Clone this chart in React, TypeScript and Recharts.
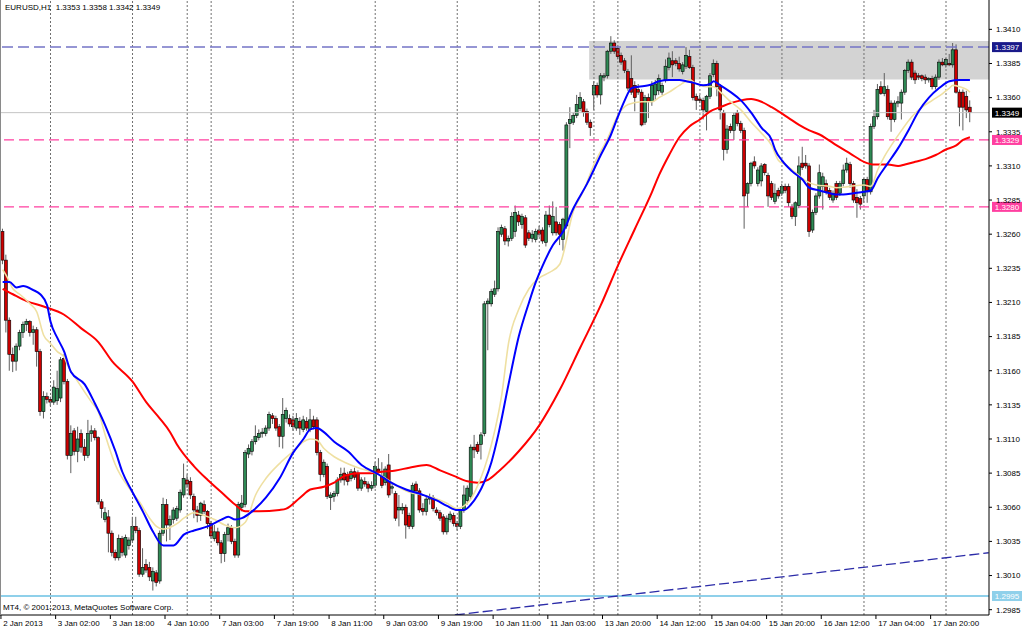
import React from "react";
import { ComposedChart, Bar, Line, XAxis, YAxis, ReferenceLine, ReferenceArea } from "recharts";

const FONT = '"Liberation Sans", Arial, sans-serif';

// ---- OHLC (EURUSD H1) ----
const opens = [
1.3262,1.3241,1.3197,1.3172,1.3167,1.3178,1.3188,1.3194,1.3196,1.3188,
1.3190,1.3174,1.3130,1.3141,1.3139,1.3137,1.3138,1.3140,1.3169,1.3152,
1.3098,1.3116,1.3101,1.3114,1.3104,1.3098,1.3114,1.3116,1.3111,1.3064,
1.3051,1.3053,1.3041,1.3027,1.3023,1.3037,1.3025,1.3032,1.3036,1.3046,
1.3043,1.3011,1.3018,1.3016,1.3006,1.3012,1.3006,1.3041,1.3062,1.3047,
1.3051,1.3052,1.3058,1.3069,1.3080,1.3079,1.3068,1.3058,1.3054,1.3062,
1.3057,1.3048,1.3037,1.3042,1.3034,1.3026,1.3040,1.3045,1.3035,1.3025,
1.3060,1.3062,1.3099,1.3101,1.3108,1.3111,1.3114,1.3114,1.3118,1.3127,
1.3125,1.3119,1.3112,1.3125,1.3125,1.3124,1.3118,1.3123,1.3117,1.3123,
1.3117,1.3124,1.3124,1.3100,1.3084,1.3090,1.3067,1.3068,1.3070,1.3080,
1.3085,1.3084,1.3081,1.3086,1.3085,1.3074,1.3079,1.3077,1.3074,1.3076,
1.3088,1.3083,1.3078,1.3091,1.3074,1.3070,1.3058,1.3058,1.3060,1.3054,
1.3046,1.3077,1.3072,1.3059,1.3057,1.3066,1.3067,1.3058,1.3056,1.3053,
1.3042,1.3051,1.3054,1.3048,1.3046,1.3058,1.3065,1.3068,1.3104,1.3106,
1.3106,1.3114,1.3209,1.3209,1.3216,1.3220,1.3260,1.3264,1.3255,1.3257,
1.3262,1.3274,1.3267,1.3272,1.3261,1.3257,1.3256,1.3263,1.3263,1.3254,
1.3274,1.3261,1.3269,1.3267,1.3256,1.3266,1.3341,1.3342,1.3347,1.3352,
1.3357,1.3350,1.3342,1.3362,1.3369,1.3362,1.3375,1.3376,1.3394,1.3400,
1.3396,1.3391,1.3387,1.3379,1.3374,1.3369,1.3366,1.3364,1.3342,1.3360,
1.3357,1.3362,1.3365,1.3364,1.3373,1.3382,1.3387,1.3387,1.3385,1.3379,
1.3383,1.3390,1.3382,1.3361,1.3359,1.3358,1.3350,1.3361,1.3377,1.3385,
1.3368,1.3349,1.3322,1.3339,1.3336,1.3349,1.3341,1.3336,1.3290,1.3297,
1.3313,1.3297,1.3299,1.3311,1.3303,1.3297,1.3284,1.3292,1.3290,1.3295,
1.3295,1.3280,1.3273,1.3281,1.3312,1.3312,1.3310,1.3263,1.3276,1.3288,
1.3295,1.3297,1.3292,1.3285,1.3297,1.3290,1.3297,1.3307,1.3311,1.3297,
1.3287,1.3286,1.3288,1.3300,1.3291,1.3339,1.3346,1.3368,1.3363,1.3366,
1.3356,1.3344,1.3356,1.3356,1.3364,1.3380,1.3386,1.3378,1.3376,1.3376,
1.3375,1.3373,1.3374,1.3368,1.3375,1.3386,1.3384,1.3385,1.3384,1.3395,
1.3364,1.3364,1.3361,1.3353];

const highs = [
1.3264,1.3245,1.3199,1.3177,1.3180,1.3190,1.3196,1.3198,1.3197,1.3193,
1.3192,1.3176,1.3145,1.3144,1.3141,1.3153,1.3160,1.3170,1.3172,1.3154,
1.3120,1.3118,1.3119,1.3117,1.3110,1.3124,1.3120,1.3118,1.3112,1.3066,
1.3060,1.3058,1.3043,1.3029,1.3040,1.3039,1.3040,1.3038,1.3053,1.3053,
1.3045,1.3030,1.3022,1.3020,1.3016,1.3014,1.3043,1.3067,1.3066,1.3054,
1.3060,1.3061,1.3073,1.3092,1.3084,1.3082,1.3070,1.3061,1.3064,1.3065,
1.3058,1.3050,1.3047,1.3045,1.3036,1.3042,1.3048,1.3047,1.3037,1.3064,
1.3069,1.3102,1.3106,1.3110,1.3120,1.3117,1.3118,1.3120,1.3130,1.3129,
1.3127,1.3121,1.3140,1.3133,1.3128,1.3127,1.3129,1.3126,1.3127,1.3126,
1.3132,1.3127,1.3126,1.3102,1.3095,1.3092,1.3071,1.3072,1.3082,1.3089,
1.3089,1.3086,1.3088,1.3089,1.3087,1.3082,1.3082,1.3079,1.3079,1.3093,
1.3096,1.3093,1.3090,1.3099,1.3077,1.3072,1.3069,1.3063,1.3062,1.3056,
1.3078,1.3079,1.3074,1.3063,1.3069,1.3070,1.3069,1.3060,1.3058,1.3055,
1.3054,1.3057,1.3056,1.3050,1.3059,1.3076,1.3076,1.3106,1.3113,1.3108,
1.3115,1.3211,1.3213,1.3220,1.3226,1.3265,1.3267,1.3266,1.3259,1.3276,
1.3281,1.3277,1.3275,1.3274,1.3263,1.3263,1.3264,1.3266,1.3265,1.3277,
1.3281,1.3284,1.3280,1.3269,1.3272,1.3342,1.3353,1.3349,1.3362,1.3364,
1.3359,1.3352,1.3344,1.3372,1.3371,1.3378,1.3378,1.3395,1.3405,1.3402,
1.3398,1.3393,1.3389,1.3381,1.3391,1.3372,1.3370,1.3366,1.3362,1.3363,
1.3372,1.3373,1.3377,1.3371,1.3388,1.3393,1.3394,1.3389,1.3390,1.3386,
1.3397,1.3395,1.3384,1.3363,1.3362,1.3360,1.3362,1.3378,1.3388,1.3387,
1.3370,1.3351,1.3340,1.3341,1.3349,1.3351,1.3343,1.3338,1.3298,1.3313,
1.3317,1.3309,1.3312,1.3312,1.3305,1.3299,1.3297,1.3294,1.3297,1.3297,
1.3297,1.3282,1.3284,1.3317,1.3324,1.3318,1.3312,1.3278,1.3290,1.3311,
1.3305,1.3300,1.3294,1.3292,1.3299,1.3299,1.3311,1.3316,1.3313,1.3299,
1.3293,1.3288,1.3301,1.3302,1.3341,1.3351,1.3370,1.3372,1.3378,1.3369,
1.3358,1.3358,1.3361,1.3366,1.3381,1.3388,1.3388,1.3380,1.3378,1.3377,
1.3377,1.3375,1.3376,1.3377,1.3388,1.3389,1.3389,1.3392,1.3400,1.3399,
1.3366,1.3366,1.3365,1.3358];

const lows = [
1.3238,1.3188,1.3160,1.3159,1.3160,1.3175,1.3184,1.3189,1.3185,1.3179,
1.3163,1.3127,1.3125,1.3136,1.3134,1.3135,1.3135,1.3137,1.3150,1.3095,
1.3085,1.3098,1.3093,1.3100,1.3094,1.3096,1.3108,1.3109,1.3062,1.3052,
1.3049,1.3027,1.3024,1.3021,1.3021,1.3024,1.3023,1.3029,1.3034,1.3041,
1.3009,1.3009,1.3012,1.3006,1.2999,1.3002,1.3004,1.3039,1.3035,1.3036,
1.3048,1.3050,1.3056,1.3067,1.3074,1.3066,1.3052,1.3049,1.3050,1.3055,
1.3044,1.3037,1.3035,1.3032,1.3019,1.3020,1.3035,1.3033,1.3023,1.3023,
1.3057,1.3060,1.3096,1.3098,1.3106,1.3109,1.3111,1.3112,1.3116,1.3121,
1.3116,1.3104,1.3103,1.3122,1.3119,1.3116,1.3116,1.3113,1.3115,1.3116,
1.3115,1.3117,1.3098,1.3079,1.3082,1.3066,1.3058,1.3064,1.3068,1.3078,
1.3076,1.3076,1.3079,1.3080,1.3072,1.3072,1.3075,1.3071,1.3072,1.3074,
1.3084,1.3074,1.3076,1.3067,1.3070,1.3050,1.3046,1.3055,1.3037,1.3044,
1.3044,1.3070,1.3056,1.3054,1.3054,1.3062,1.3057,1.3054,1.3050,1.3040,
1.3040,1.3049,1.3046,1.3043,1.3044,1.3056,1.3062,1.3066,1.3096,1.3099,
1.3095,1.3112,1.3175,1.3207,1.3214,1.3218,1.3258,1.3252,1.3251,1.3255,
1.3258,1.3266,1.3264,1.3250,1.3255,1.3254,1.3254,1.3258,1.3253,1.3251,
1.3265,1.3259,1.3259,1.3252,1.3248,1.3264,1.3323,1.3340,1.3345,1.3350,
1.3346,1.3340,1.3332,1.3351,1.3360,1.3355,1.3372,1.3374,1.3392,1.3392,
1.3388,1.3384,1.3378,1.3365,1.3362,1.3350,1.3362,1.3339,1.3340,1.3345,
1.3354,1.3358,1.3362,1.3362,1.3371,1.3380,1.3375,1.3383,1.3379,1.3377,
1.3381,1.3381,1.3358,1.3351,1.3356,1.3344,1.3336,1.3359,1.3375,1.3361,
1.3344,1.3314,1.3319,1.3334,1.3329,1.3339,1.3334,1.3264,1.3280,1.3295,
1.3308,1.3295,1.3295,1.3303,1.3280,1.3285,1.3282,1.3286,1.3288,1.3290,
1.3280,1.3271,1.3266,1.3279,1.3307,1.3308,1.3258,1.3261,1.3274,1.3286,
1.3278,1.3289,1.3285,1.3283,1.3285,1.3288,1.3295,1.3305,1.3294,1.3283,
1.3272,1.3278,1.3283,1.3283,1.3289,1.3337,1.3344,1.3362,1.3361,1.3344,
1.3335,1.3342,1.3353,1.3344,1.3362,1.3378,1.3373,1.3370,1.3373,1.3372,
1.3370,1.3371,1.3366,1.3366,1.3373,1.3383,1.3382,1.3383,1.3382,1.3363,
1.3339,1.3336,1.3345,1.3342];

const closes = [
1.3241,1.3197,1.3172,1.3167,1.3178,1.3188,1.3194,1.3196,1.3188,1.3190,
1.3174,1.3130,1.3141,1.3139,1.3137,1.3148,1.3147,1.3168,1.3152,1.3098,
1.3114,1.3101,1.3110,1.3104,1.3098,1.3114,1.3116,1.3111,1.3064,1.3059,
1.3056,1.3041,1.3027,1.3023,1.3037,1.3027,1.3038,1.3036,1.3046,1.3043,
1.3011,1.3016,1.3014,1.3009,1.3013,1.3005,1.3041,1.3062,1.3047,1.3051,
1.3058,1.3059,1.3071,1.3081,1.3077,1.3069,1.3058,1.3054,1.3063,1.3057,
1.3048,1.3039,1.3042,1.3034,1.3026,1.3040,1.3045,1.3035,1.3025,1.3062,
1.3063,1.3100,1.3103,1.3108,1.3112,1.3114,1.3115,1.3118,1.3128,1.3125,
1.3118,1.3112,1.3128,1.3131,1.3121,1.3119,1.3125,1.3118,1.3124,1.3118,
1.3124,1.3119,1.3100,1.3084,1.3093,1.3068,1.3069,1.3070,1.3080,1.3084,
1.3080,1.3079,1.3086,1.3082,1.3074,1.3080,1.3077,1.3074,1.3076,1.3090,
1.3086,1.3076,1.3088,1.3069,1.3075,1.3052,1.3060,1.3060,1.3047,1.3046,
1.3076,1.3072,1.3058,1.3057,1.3066,1.3067,1.3059,1.3056,1.3052,1.3042,
1.3052,1.3055,1.3048,1.3046,1.3058,1.3069,1.3074,1.3104,1.3102,1.3101,
1.3113,1.3209,1.3211,1.3218,1.3220,1.3262,1.3265,1.3255,1.3257,1.3273,
1.3276,1.3269,1.3273,1.3252,1.3257,1.3260,1.3262,1.3260,1.3255,1.3274,
1.3267,1.3273,1.3261,1.3260,1.3271,1.3340,1.3344,1.3347,1.3355,1.3360,
1.3349,1.3342,1.3338,1.3369,1.3362,1.3376,1.3376,1.3394,1.3400,1.3394,
1.3390,1.3386,1.3380,1.3367,1.3364,1.3360,1.3364,1.3340,1.3360,1.3357,
1.3369,1.3370,1.3374,1.3369,1.3383,1.3389,1.3384,1.3385,1.3381,1.3384,
1.3391,1.3382,1.3360,1.3358,1.3358,1.3351,1.3361,1.3376,1.3385,1.3368,
1.3351,1.3322,1.3337,1.3336,1.3347,1.3341,1.3336,1.3288,1.3297,1.3312,
1.3310,1.3307,1.3310,1.3305,1.3288,1.3287,1.3290,1.3288,1.3295,1.3292,
1.3283,1.3273,1.3283,1.3310,1.3309,1.3310,1.3262,1.3276,1.3288,1.3305,
1.3302,1.3291,1.3287,1.3290,1.3287,1.3297,1.3307,1.3312,1.3297,1.3285,
1.3283,1.3282,1.3300,1.3292,1.3339,1.3346,1.3366,1.3363,1.3368,1.3346,
1.3344,1.3356,1.3357,1.3364,1.3380,1.3386,1.3375,1.3373,1.3375,1.3374,
1.3373,1.3374,1.3368,1.3375,1.3386,1.3384,1.3388,1.3384,1.3395,1.3364,
1.3353,1.3353,1.3351,1.3349];

// ---- Moving averages (read at sample bars) ----
const blueIdx = [0,2,4,6,9,11,13,14,16,18,20,24,27,30,33,35,38,41,44,47,50,53,56,60,64,66,68,70,73,77,81,85,88,90,92,94,97,101,105,110,113,118,123,127,130,133,135,137,139,141,143,145,148,151,154,156,158,161,164,167,171,175,178,180,182,184,186,189,192,195,198,200,202,205,207,208,210,213,216,219,222,225,226,228,231,234,236,239,242,244,246,249,252,254,256,259,262,265,268,271,274,277,280,283];
const blueVal = [1.3225,1.3225,1.3221,1.3222,1.3219,1.3216,1.3208,1.3196,1.3184,1.3174,1.3159,1.3150,1.3136,1.3120,1.3101,1.3086,1.3071,1.3057,1.3042,1.3032,1.3032,1.3040,1.3043,1.3046,1.3051,1.3053,1.3051,1.3052,1.3057,1.3067,1.3081,1.3100,1.3110,1.3117,1.3118,1.3115,1.3108,1.3101,1.3091,1.3084,1.3079,1.3073,1.3069,1.3065,1.3061,1.3058,1.3058,1.3062,1.3069,1.3079,1.3093,1.3113,1.3150,1.3185,1.3210,1.3225,1.3237,1.3252,1.3262,1.3279,1.3297,1.3318,1.3333,1.3346,1.3358,1.3367,1.3368,1.3369,1.3372,1.3373,1.3373,1.3372,1.3371,1.3369,1.3370,1.3372,1.3369,1.3364,1.3358,1.3349,1.3338,1.3329,1.3322,1.3314,1.3306,1.3300,1.3294,1.3292,1.3290,1.3289,1.3289,1.3290,1.3291,1.3292,1.3301,1.3312,1.3323,1.3336,1.3350,1.3360,1.3367,1.3372,1.3373,1.3373];

const yelIdx = [0,1,3,5,8,10,12,14,16,18,19,22,26,28,30,33,37,40,43,45,47,51,53,56,59,62,65,68,71,74,77,81,85,88,90,92,94,97,100,104,108,111,115,119,123,127,130,133,135,137,139,141,143,145,146,148,151,154,157,160,163,167,170,173,177,180,183,187,190,192,195,198,201,203,206,208,210,213,216,219,222,225,227,229,232,235,238,242,244,248,252,254,256,258,260,263,266,269,272,275,277,278,280,282,283];
const yelVal = [1.3234,1.3230,1.3220,1.3216,1.3209,1.3203,1.3186,1.3180,1.3174,1.3170,1.3164,1.3152,1.3137,1.3130,1.3113,1.3091,1.3074,1.3064,1.3052,1.3046,1.3044,1.3048,1.3052,1.3056,1.3054,1.3051,1.3047,1.3045,1.3049,1.3069,1.3081,1.3092,1.3101,1.3108,1.3110,1.3109,1.3103,1.3097,1.3093,1.3089,1.3086,1.3083,1.3076,1.3071,1.3069,1.3066,1.3063,1.3059,1.3061,1.3066,1.3076,1.3089,1.3106,1.3128,1.3142,1.3180,1.3205,1.3220,1.3228,1.3232,1.3238,1.3277,1.3292,1.3311,1.3330,1.3347,1.3355,1.3357,1.3357,1.3360,1.3364,1.3369,1.3373,1.3370,1.3368,1.3368,1.3364,1.3357,1.3351,1.3342,1.3334,1.3325,1.3314,1.3311,1.3305,1.3299,1.3296,1.3295,1.3294,1.3295,1.3296,1.3295,1.3307,1.3317,1.3325,1.3336,1.3346,1.3353,1.3358,1.3363,1.3367,1.3369,1.3368,1.3366,1.3364];

const redIdx = [0,3,7,12,18,23,28,32,38,42,46,49,51,56,60,64,68,71,75,81,83,87,90,94,97,100,104,108,111,115,119,124,128,132,136,139,142,145,151,157,163,169,175,180,185,190,192,195,198,201,204,207,210,213,216,219,222,225,227,230,233,236,239,241,244,248,252,255,259,262,264,267,270,273,276,279,281,283];
const redVal = [1.3220,1.3216,1.3211,1.3207,1.3201,1.3191,1.3181,1.3167,1.3152,1.3137,1.3125,1.3115,1.3106,1.3090,1.3080,1.3071,1.3062,1.3057,1.3057,1.3058,1.3059,1.3067,1.3073,1.3075,1.3078,1.3083,1.3085,1.3085,1.3086,1.3087,1.3089,1.3091,1.3087,1.3083,1.3079,1.3078,1.3080,1.3086,1.3101,1.3120,1.3146,1.3177,1.3208,1.3237,1.3264,1.3291,1.3303,1.3318,1.3331,1.3339,1.3344,1.3350,1.3353,1.3356,1.3358,1.3359,1.3357,1.3353,1.3350,1.3345,1.3340,1.3336,1.3333,1.3330,1.3325,1.3319,1.3313,1.3311,1.3311,1.3310,1.3311,1.3313,1.3315,1.3318,1.3322,1.3325,1.3329,1.3331];

// ---- axes ----
const dateTicks = [0,16,32,48,64,80,96,112,128,144,160,176,192,208,224,240,256,272];
const dateLabels = ["2 Jan 2013","3 Jan 02:00","3 Jan 18:00","4 Jan 10:00","7 Jan 03:00","7 Jan 19:00","8 Jan 11:00","9 Jan 03:00","9 Jan 19:00","10 Jan 11:00","11 Jan 03:00","13 Jan 20:00","14 Jan 12:00","15 Jan 04:00","15 Jan 20:00","16 Jan 12:00","17 Jan 04:00","17 Jan 20:00"];
const priceTicks = [1.3410,1.3385,1.3360,1.3335,1.3310,1.3285,1.3260,1.3235,1.3210,1.3185,1.3160,1.3135,1.3110,1.3085,1.3060,1.3035,1.3010,1.2985];
const gridIdx = [14,38,54,61,85,109,133,157,173,180,204,228,252,276];
const xDomain = [-0.775, 288.58];
const yDomain = [1.29811, 1.34315];

// ---- objects ----
const levelPrices = [1.3397, 1.3349, 1.3329, 1.3280, 1.2995];
const zoneStart = 171.6;
const zoneLow = 1.33732;
const zoneHigh = 1.34014;
const trendFrom = { x: 132.3, y: 1.29811 };
const trendTo = { x: 288.5, y: 1.30267 };

const rows: any[] = opens.map((o, i) => ({
  i, o, h: highs[i], l: lows[i], c: closes[i], range: [lows[i], highs[i]],
}));
blueIdx.forEach((k, j) => { rows[k].blue = blueVal[j]; });
yelIdx.forEach((k, j) => { rows[k].yel = yelVal[j]; });
redIdx.forEach((k, j) => { rows[k].red = redVal[j]; });

function Candle(props: any) {
  const { x, y, width, height, payload } = props;
  if (!payload || x == null || y == null) return null;
  const top = Math.min(y, y + height);
  const bot = Math.max(y, y + height);
  const span = payload.h - payload.l || 1e-9;
  const py = (p: number) => top + ((payload.h - p) / span) * (bot - top);
  const cx = x + width / 2;
  const yo = py(payload.o);
  const yc = py(payload.c);
  const bull = payload.c >= payload.o;
  const bt = Math.min(yo, yc);
  const bh = Math.max(Math.abs(yc - yo), 1);
  return (
    <g>
      <line x1={cx} x2={cx} y1={top} y2={bot} stroke="#5e5e5e" strokeWidth={1} />
      <rect x={cx - 1.5} y={bt} width={3} height={bh} fill={bull ? "#2f8a55" : "#cc0000"} stroke="#000" strokeWidth={0.6} />
    </g>
  );
}

function PriceTag(props: any) {
  const { viewBox, text, bg, fg } = props;
  if (!viewBox) return null;
  const x = viewBox.x + viewBox.width + 3;
  const y = viewBox.y;
  return (
    <g>
      <rect x={x} y={y - 5} width={30} height={10} fill={bg} />
      <text x={x + 15} y={y} dy={3} textAnchor="middle" fontSize={8} fontFamily={FONT} fill={fg}>{text}</text>
    </g>
  );
}

function DateTick(props: any) {
  const { x, y, payload } = props;
  const k = dateTicks.indexOf(payload.value);
  return (
    <g>
      <line x1={x - 1.7} x2={x - 1.7} y1={y - 4} y2={y} stroke="#000" />
      <text x={x + 0.5} y={y + 7} fontSize={8} fontFamily={FONT} fill="#000" textAnchor="start">{dateLabels[k]}</text>
    </g>
  );
}

const tagStyles = [
  { stroke: "#7474c6", dash: "11 5", width: 1.5, bg: "#1a1a8a", fg: "#fff" },
  { stroke: "#c4c4c4", dash: undefined, width: 1, bg: "#000", fg: "#fff" },
  { stroke: "#ff3fa0", dash: "10 5", width: 1.2, bg: "#ff3fa0", fg: "#fff" },
  { stroke: "#ff3fa0", dash: "10 5", width: 1.2, bg: "#ff3fa0", fg: "#fff" },
  { stroke: "#8fd0ea", dash: undefined, width: 2, bg: "#8fd0ea", fg: "#fff" },
];

export default function App() {
  const last = opens.length - 1;
  const header = `EURUSD,H1  ${opens[last].toFixed(4)} ${highs[last].toFixed(4)} ${lows[last].toFixed(4)} ${closes[last].toFixed(4)}`;
  return (
    <div style={{ position: "absolute", left: 0, top: 0, width: 1024, height: 631, background: "#fff", overflow: "hidden" }}>
      <ComposedChart width={1024} height={631} data={rows} margin={{ top: 0, right: 0, bottom: 0, left: 0 }}>
        <XAxis
          dataKey="i" type="number" domain={xDomain} allowDataOverflow ticks={dateTicks} interval={0}
          height={16} tickSize={4} tickMargin={0} tickLine={false} axisLine={{ stroke: "#000" }}
          tick={<DateTick />}
        />
        <YAxis
          orientation="right" type="number" domain={yDomain} allowDataOverflow ticks={priceTicks} interval={0}
          width={35} tickSize={3} tickMargin={4} axisLine={{ stroke: "#000" }} tickLine={{ stroke: "#000" }}
          tick={{ fontSize: 8, fill: "#000", fontFamily: FONT }}
          tickFormatter={(v: number) => v.toFixed(4)}
        />
        <ReferenceArea x1={zoneStart} y1={zoneLow} y2={zoneHigh} fill="#d3d3d3" fillOpacity={1} stroke="none" ifOverflow="hidden" />
        {gridIdx.map((g) => (
          <ReferenceLine key={"g" + g} x={g} stroke="#707070" strokeDasharray="2 2" />
        ))}
        {levelPrices.map((p, k) => (
          <ReferenceLine
            key={"l" + k} y={p} stroke={tagStyles[k].stroke} strokeDasharray={tagStyles[k].dash}
            strokeWidth={tagStyles[k].width}
            label={(lp: any) => <PriceTag {...lp} text={p.toFixed(4)} bg={tagStyles[k].bg} fg={tagStyles[k].fg} />}
          />
        ))}
        <ReferenceLine segment={[trendFrom, trendTo]} stroke="#2c2ca8" strokeDasharray="10 4" strokeWidth={1.3} ifOverflow="hidden" />
        <Bar dataKey="range" barSize={3} isAnimationActive={false} shape={(p: any) => <Candle {...p} />} />
        <Line dataKey="red" type="monotone" stroke="#ff0000" strokeWidth={2} dot={false} connectNulls isAnimationActive={false} />
        <Line dataKey="yel" type="monotone" stroke="#efe0a2" strokeWidth={1.6} dot={false} connectNulls isAnimationActive={false} />
        <Line dataKey="blue" type="monotone" stroke="#0000ff" strokeWidth={2} dot={false} connectNulls isAnimationActive={false} />
      </ComposedChart>
      <div style={{ position: "absolute", left: 0, top: 0, width: 1, height: 615, background: "#8a8a8a" }} />
      <div style={{ position: "absolute", left: 5, top: 3, fontFamily: FONT, fontSize: 8, color: "#000", whiteSpace: "pre", lineHeight: "10px" }}>{header}</div>
      <div style={{ position: "absolute", left: 3, top: 603, fontFamily: FONT, fontSize: 8, color: "#000", whiteSpace: "pre", lineHeight: "10px" }}>MT4, © 2001-2013, MetaQuotes Software Corp.</div>
    </div>
  );
}
